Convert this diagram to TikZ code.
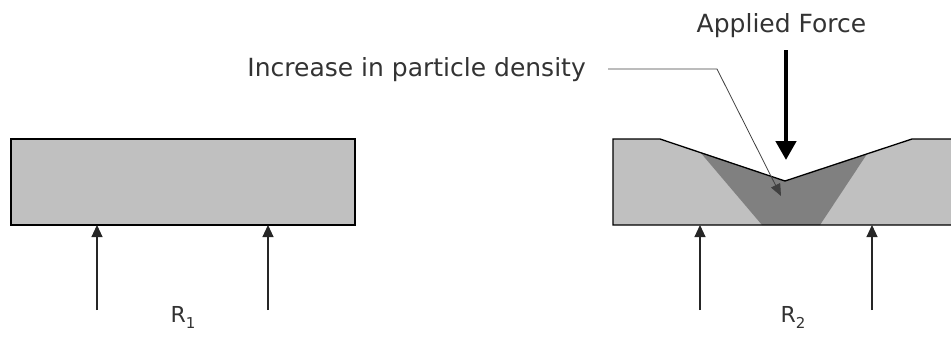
\documentclass[tikz,border=0pt]{standalone}
\usepackage{fontspec}
\setmainfont{DejaVu Sans}
\usetikzlibrary{arrows.meta}
\definecolor{beamgray}{HTML}{C0C0C0}
\definecolor{densegray}{HTML}{808080}
\tikzset{
  beam/.style={draw=black, line width=1.3pt, fill=beamgray},
  reaction/.style={line width=1.1pt, draw=black!85, -{Triangle[length=12pt,width=11pt]}},
  force/.style={line width=4.5pt, -{Triangle[length=19pt,width=20pt]}},
  leader/.style={line width=0.8pt, draw=black!75, -{Triangle[length=12pt,width=10pt]}},
  lbl/.style={text=black!80, inner sep=0pt, font=\fontsize{25}{30}\selectfont},
  rlbl/.style={text=black!80, inner sep=0pt, font=\fontsize{22}{26}\selectfont},
}
\begin{document}
\begin{tikzpicture}[x=1pt,y=-1pt]
    \useasboundingbox (0,0) rectangle (951,338);
    \draw[beam] (11,139) rectangle (355,225);
    \fill[beamgray] (613,139) -- (660,139) -- (785,181) -- (912,139) -- (951,139)
        -- (951,225) -- (613,225) -- cycle;
    \fill[densegray] (700,152) -- (785,181) -- (867,154) -- (820,225) -- (762,225) -- cycle;
    \draw[line width=1.3pt] (951,139) -- (912,139) -- (785,181) -- (660,139) -- (613,139)
        -- (613,225) -- (951,225);
    \coordinate (a1) at (97,310);  \coordinate (b1) at (97,225);
    \coordinate (a2) at (268,310); \coordinate (b2) at (268,225);
    \coordinate (a3) at (700,310); \coordinate (b3) at (700,225);
    \coordinate (a4) at (872,310); \coordinate (b4) at (872,225);
    \draw[reaction] (a1) -- (b1);
    \draw[reaction] (a2) -- (b2);
    \draw[reaction] (a3) -- (b3);
    \draw[reaction] (a4) -- (b4);
    \node[rlbl, anchor=base] (r1) at (183,322) {R\raisebox{-6pt}{\fontsize{15}{15}\selectfont 1}};
    \node[rlbl, anchor=base] (r2) at (793,322) {R\raisebox{-6pt}{\fontsize{15}{15}\selectfont 2}};
    \node[lbl, anchor=base] (force) at (781.5,32) {Applied Force};
    \coordinate (ftop) at (786,50);
    \coordinate (ftip) at (786,160);
    \draw[force] (ftop) -- (ftip);
    \node[lbl, anchor=base east] (dens) at (586,76) {Increase in particle density};
    \coordinate (lstart) at (608,69);
    \coordinate (lbend) at (717,69);
    \coordinate (ltip) at (781,196);
    \draw[leader] (lstart) -- (lbend) -- (ltip);
\end{tikzpicture}
\end{document}
